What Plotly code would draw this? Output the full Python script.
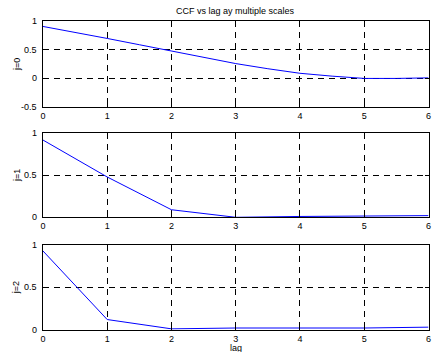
import plotly.graph_objects as go

lag_fine = [0, 0.5, 1, 1.5, 2, 2.5, 3, 3.5, 4, 4.5, 5, 5.5, 6]
ccf_j0 = [0.91, 0.81, 0.70, 0.59, 0.48, 0.37, 0.26, 0.17, 0.09, 0.04, 0.0, 0.0, 0.01]
lag = [0, 1, 2, 3, 4, 5, 6]
ccf_j1 = [0.92, 0.48, 0.09, 0.0, 0.01, 0.015, 0.02]
ccf_j2 = [0.93, 0.12, 0.01, 0.02, 0.02, 0.02, 0.03]
ylabels = ["j=0", "j=1", "j=2"]
xticks = [0, 1, 2, 3, 4, 5, 6]
yticks_top = [-0.5, 0, 0.5, 1]
yticks_other = [0, 0.5, 1]
title = "CCF vs lag ay multiple scales"
xlabel = "lag"

W, H = 433, 352
fig = go.Figure()
series = [(lag_fine, ccf_j0), (lag, ccf_j1), (lag, ccf_j2)]
panels = [(21.3, 107.0), (133.3, 217.3), (245.0, 329.7)]
x0, x1 = 40.5, 431.5
font = dict(family="Liberation Sans, Arial", size=9, color="black")

annotations = [
    dict(text=title, x=(x0 + x1) / 2 / W, y=(H - 11) / H, xref="paper", yref="paper",
         showarrow=False, font=font, xanchor="center", yanchor="middle"),
    dict(text=xlabel, x=(x0 + x1) / 2 / W, y=0, xref="paper", yref="paper",
         showarrow=False, font=font, xanchor="center", yanchor="bottom", yshift=-3),
]

for i, ((xs, ys), (pt, pb)) in enumerate(zip(series, panels)):
    n = "" if i == 0 else str(i + 1)
    fig.add_trace(go.Scatter(x=xs, y=ys, mode="lines", line=dict(color="blue", width=1),
                             xaxis="x" + n, yaxis="y" + n, showlegend=False))
    common = dict(showline=True, mirror="ticks", linecolor="black", linewidth=1,
                  ticks="inside", ticklen=4, tickcolor="black", tickfont=font,
                  showgrid=True, gridcolor="black", gridwidth=1, griddash="6px,5px",
                  zeroline=False)
    yt = yticks_top if i == 0 else yticks_other
    fig.update_layout(**{
        "xaxis" + n: dict(domain=[x0 / W, x1 / W], range=[0, 6], tickmode="array",
                          tickvals=xticks, ticktext=[str(v) for v in xticks],
                          ticklabeloverflow="allow", anchor="y" + n, **common),
        "yaxis" + n: dict(domain=[(H - pb) / H, (H - pt) / H],
                          range=[yt[0], yt[-1]], tickmode="array", tickvals=yt,
                          showticklabels=False, anchor="x" + n, **common),
    })
    for v in yt:
        annotations.append(dict(text="%g" % v, x=37 / W, y=v, xref="paper",
                                yref="y" + n, showarrow=False, font=font,
                                xanchor="right", yanchor="middle"))
    annotations.append(dict(text=ylabels[i], x=14 / W, y=(H - (pt + pb) / 2) / H,
                            xref="paper", yref="paper", showarrow=False, font=font,
                            textangle=-90, xanchor="center", yanchor="middle"))

fig.update_layout(
    width=W, height=H, margin=dict(l=0, r=0, t=0, b=0),
    plot_bgcolor="white", paper_bgcolor="white",
    annotations=annotations,
)
fig.write_html("out.html")
